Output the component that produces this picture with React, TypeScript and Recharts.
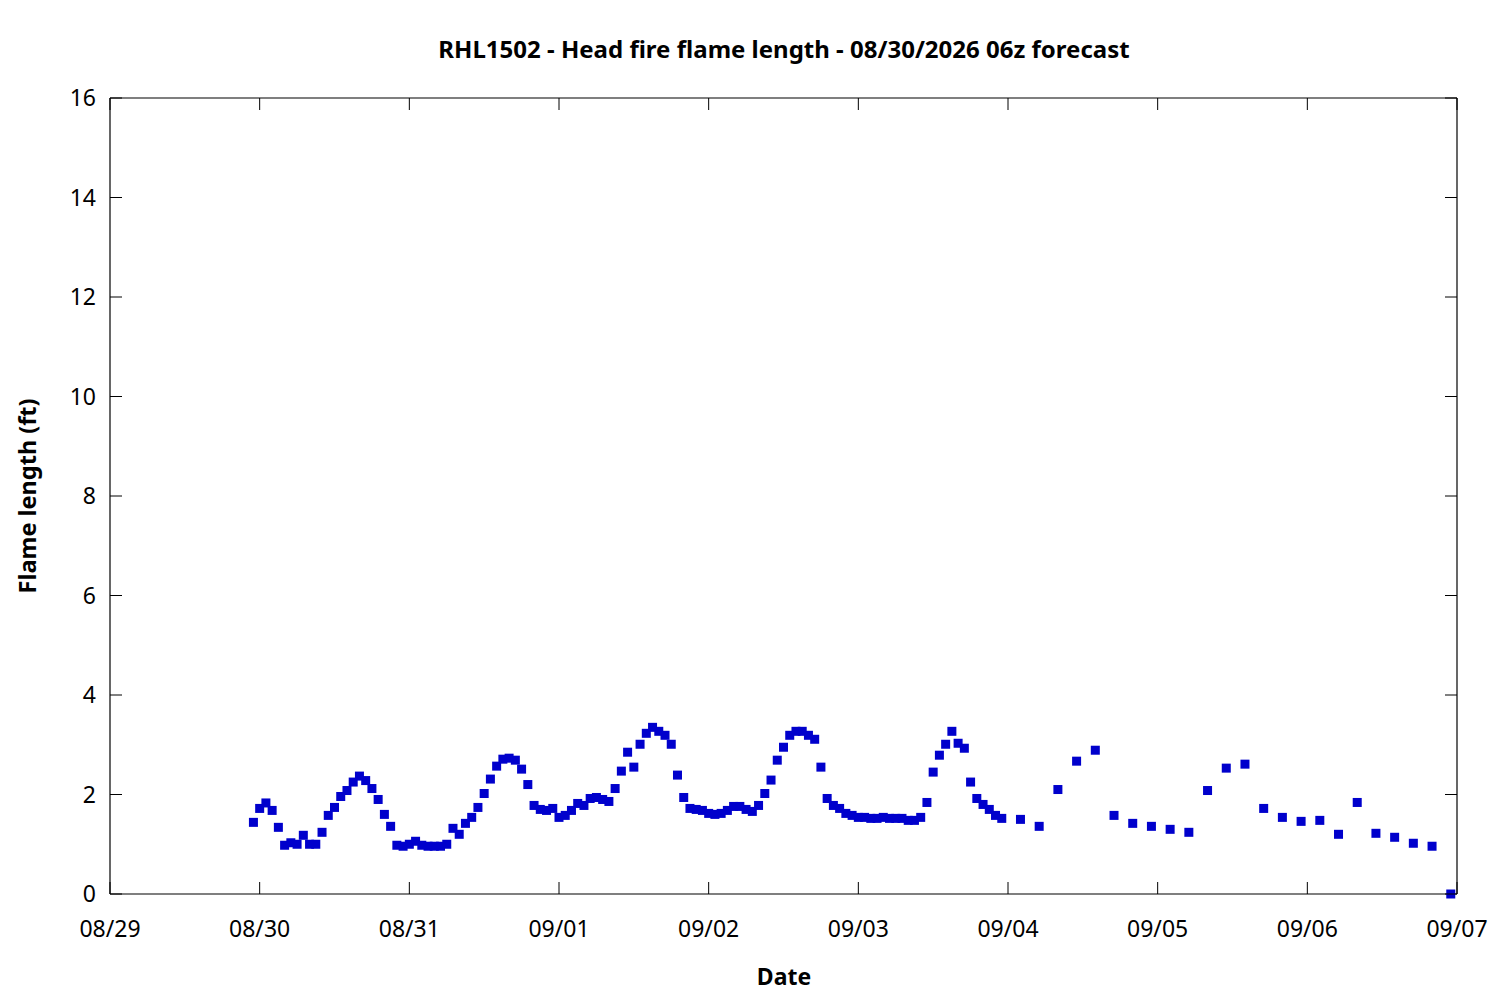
import React from 'react'
import { ScatterChart, Scatter, XAxis, YAxis } from 'recharts'

// hours are counted from 08/29 00:00
const HOURLY_START = 23
const HOURLY_VALUES = [
  1.44, 1.72, 1.83, 1.68, 1.34, 0.98, 1.03, 1.0, 1.18, 1.0,
  1.0, 1.24, 1.58, 1.74, 1.96, 2.08, 2.25, 2.37, 2.28, 2.12,
  1.9, 1.6, 1.36, 0.98, 0.96, 1.0, 1.06, 0.98, 0.96, 0.96,
  0.96, 1.0, 1.32, 1.2, 1.42, 1.54, 1.74, 2.02, 2.31, 2.57,
  2.71, 2.73, 2.69, 2.51, 2.2, 1.78, 1.7, 1.68, 1.72, 1.54,
  1.58, 1.68, 1.82, 1.78, 1.92, 1.94, 1.9, 1.86, 2.12, 2.47,
  2.85, 2.55, 3.01, 3.23, 3.35, 3.27, 3.19, 3.01, 2.39, 1.94,
  1.72, 1.7, 1.68, 1.62, 1.6, 1.62, 1.68, 1.76, 1.76, 1.7,
  1.66, 1.78, 2.02, 2.29, 2.69, 2.95, 3.19, 3.27, 3.27, 3.19,
  3.11, 2.55, 1.92, 1.78, 1.72, 1.62, 1.58, 1.54, 1.54, 1.52,
  1.52, 1.54, 1.52, 1.52, 1.52, 1.48, 1.48, 1.54, 1.84, 2.45,
  2.79, 3.01, 3.27, 3.03, 2.93, 2.25, 1.92, 1.8, 1.7, 1.58,
  1.52,
]
const THREE_HOURLY_START = 146
const THREE_HOURLY_VALUES = [
  1.5, 1.36, 2.1, 2.67, 2.89, 1.58, 1.42, 1.36, 1.3, 1.24,
  2.08, 2.53, 2.61, 1.72, 1.54, 1.46, 1.48, 1.2, 1.84, 1.22,
  1.14, 1.02, 0.96, 0.0,
]

const X_TICKS = [0, 24, 48, 72, 96, 120, 144, 168, 192, 216]
const X_LABELS = ['08/29', '08/30', '08/31', '09/01', '09/02', '09/03', '09/04', '09/05', '09/06', '09/07']
const Y_TICKS = [0, 2, 4, 6, 8, 10, 12, 14, 16]

const data = [
  ...HOURLY_VALUES.map((v, i) => ({ hour: HOURLY_START + i, value: v })),
  ...THREE_HOURLY_VALUES.map((v, i) => ({ hour: THREE_HOURLY_START + i * 3, value: v })),
]

const FONT = "'Noto Sans', 'Open Sans', sans-serif"
const TICK_LEN = 12

const BottomTick = ({ x, y, payload }: any) => (
  <g>
    <line x1={x} y1={y} x2={x} y2={y - TICK_LEN} stroke="#000" strokeWidth={1} />
    <text x={x} y={y + 43} textAnchor="middle" fontSize={23} fontFamily={FONT} fill="#000">
      {X_LABELS[X_TICKS.indexOf(payload.value)]}
    </text>
  </g>
)

const TopTick = ({ x, y }: any) => (
  <line x1={x} y1={y} x2={x} y2={y + TICK_LEN} stroke="#000" strokeWidth={1} />
)

const LeftTick = ({ x, y, payload }: any) => (
  <g>
    <line x1={x} y1={y} x2={x + TICK_LEN} y2={y} stroke="#000" strokeWidth={1} />
    <text x={x - 14} y={y + 8} textAnchor="end" fontSize={23} fontFamily={FONT} fill="#000">
      {payload.value}
    </text>
  </g>
)

const RightTick = ({ x, y }: any) => (
  <line x1={x} y1={y} x2={x - TICK_LEN} y2={y} stroke="#000" strokeWidth={1} />
)

const SquareDot = ({ cx, cy }: any) => (
  <rect x={cx - 4.5} y={cy - 4.5} width={9} height={9} fill="#0000cc" />
)

export default function App() {
  return (
    <div style={{ position: 'absolute', left: 0, top: 0, width: 1500, height: 1000, background: '#fff' }}>
      <ScatterChart width={1500} height={1000} margin={{ top: 78, right: 23, bottom: 66, left: 50 }}>
        <XAxis
          xAxisId="bottom"
          type="number"
          dataKey="hour"
          domain={[0, 216]}
          ticks={X_TICKS}
          interval={0}
          height={40}
          tickSize={0}
          tickMargin={0}
          tick={<BottomTick />}
          axisLine={{ stroke: '#000', strokeWidth: 1.2 }}
        />
        <XAxis
          xAxisId="top"
          orientation="top"
          type="number"
          dataKey="hour"
          domain={[0, 216]}
          ticks={X_TICKS}
          interval={0}
          height={20}
          tickSize={0}
          tickMargin={0}
          tick={<TopTick />}
          axisLine={{ stroke: '#000', strokeWidth: 1.2 }}
        />
        <YAxis
          yAxisId="left"
          type="number"
          dataKey="value"
          domain={[0, 16]}
          ticks={Y_TICKS}
          interval={0}
          width={60}
          tickSize={0}
          tickMargin={0}
          tick={<LeftTick />}
          axisLine={{ stroke: '#000', strokeWidth: 1.2 }}
        />
        <YAxis
          yAxisId="right"
          orientation="right"
          type="number"
          dataKey="value"
          domain={[0, 16]}
          ticks={Y_TICKS}
          interval={0}
          width={20}
          tickSize={0}
          tickMargin={0}
          tick={<RightTick />}
          axisLine={{ stroke: '#000', strokeWidth: 1.2 }}
        />
        <Scatter
          data={data}
          xAxisId="bottom"
          yAxisId="left"
          shape={<SquareDot />}
          isAnimationActive={false}
        />
        <Scatter
          data={data}
          xAxisId="top"
          yAxisId="right"
          shape={() => <g />}
          isAnimationActive={false}
        />
      </ScatterChart>
      <svg
        width={1500}
        height={1000}
        style={{ position: 'absolute', left: 0, top: 0, pointerEvents: 'none' }}
      >
        <text x={784} y={58} textAnchor="middle" fontSize={24} fontWeight="bold" fontFamily={FONT} fill="#000">
          RHL1502 - Head fire flame length - 08/30/2026 06z forecast
        </text>
        <text x={784} y={985} textAnchor="middle" fontSize={23} fontWeight="bold" fontFamily={FONT} fill="#000">
          Date
        </text>
        <text
          x={0}
          y={0}
          transform="translate(36, 496) rotate(-90)"
          textAnchor="middle"
          fontSize={23.5}
          fontWeight="bold"
          fontFamily={FONT}
          fill="#000"
        >
          Flame length (ft)
        </text>
      </svg>
    </div>
  )
}
